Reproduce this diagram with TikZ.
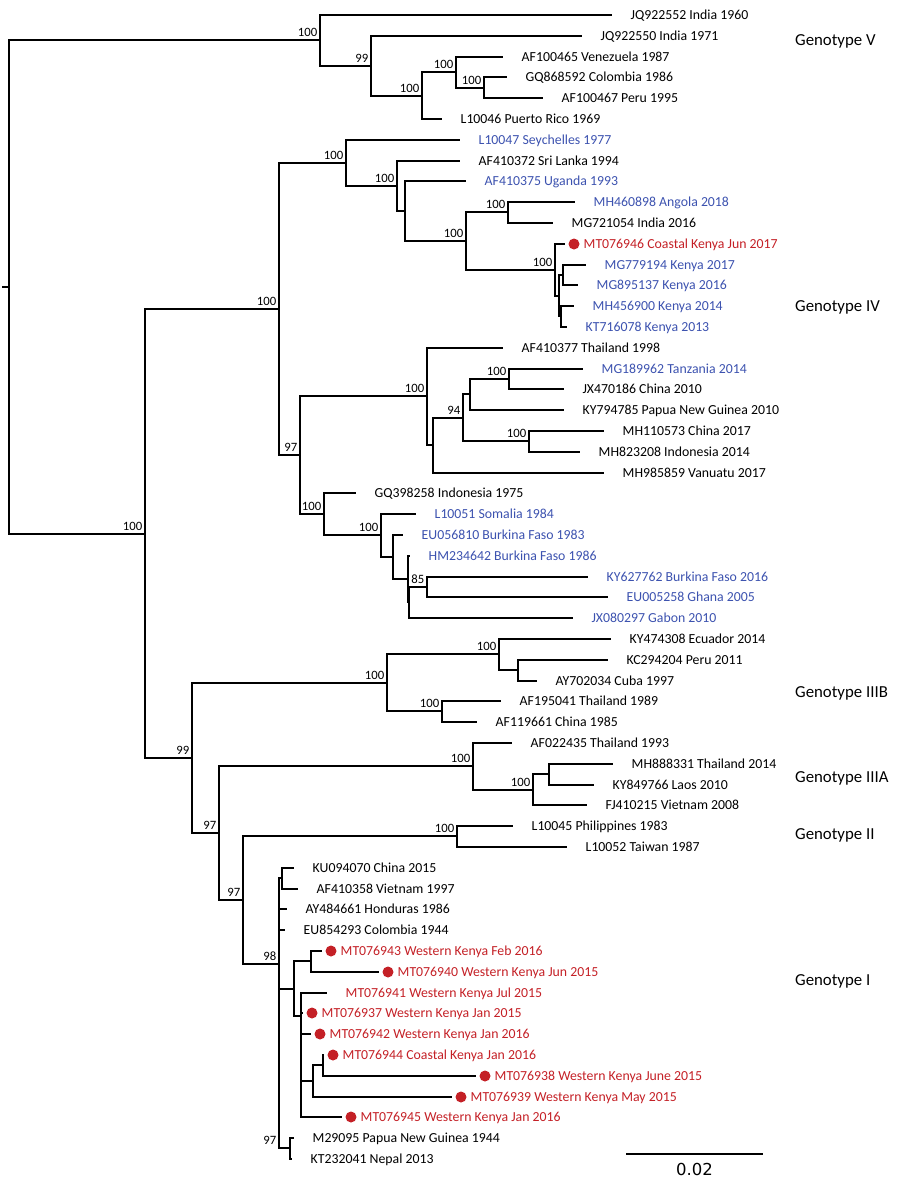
\documentclass[tikz,border=0pt]{standalone}
\usepackage{fontspec}
\setmainfont{Carlito}
\newfontfamily\scalebarfont{DejaVu Sans}
\definecolor{tblue}{RGB}{60,82,175}
\definecolor{tred}{RGB}{196,32,38}
\newcommand\leaf[5]{\coordinate (#1) at (#2,#3); \node[tl,#5] (#1l) at ([xshift=18.5pt]#1) {#4};}
\newcommand\dleaf[4]{\coordinate (#1) at (#2,#3); \node[reddot] (#1d) at ([xshift=9pt]#1) {}; \node[tl,tred] (#1l) at ([xshift=18.5pt]#1) {#4};}
\newcommand\inode[4]{\coordinate (#1) at (#2,#3); \node[bs] (#1b) at ([xshift=-2.5pt,yshift=3.5pt]#1) {#4};}
\begin{document}
\begin{tikzpicture}[x=1pt,y=-1pt,
  br/.style={line width=2pt, line join=miter},
  tl/.style={anchor=west, inner sep=0pt, font=\fontsize{13.8}{14}\selectfont, text height=9pt, text depth=0pt},
  bs/.style={anchor=south east, inner sep=0pt, font=\fontsize{12.7}{13}\selectfont},
  gt/.style={anchor=west, inner sep=0pt, font=\fontsize{16.8}{18}\selectfont, text height=11pt, text depth=0pt},
  reddot/.style={circle, fill=tred, draw=none, inner sep=0pt, minimum size=11pt}]
\useasboundingbox (0,0) rectangle (900,1186);
% ---- leaves ----
\leaf{t1}{612}{15}{JQ922552 India 1960}{black}
\leaf{t2}{582}{36}{JQ922550 India 1971}{black}
\leaf{t3}{503}{57}{AF100465 Venezuela 1987}{black}
\leaf{t4}{507}{77}{GQ868592 Colombia 1986}{black}
\leaf{t5}{543}{98}{AF100467 Peru 1995}{black}
\leaf{t6}{442}{119}{L10046 Puerto Rico 1969}{black}
\leaf{t7}{460}{140}{L10047 Seychelles 1977}{tblue}
\leaf{t8}{460}{161}{AF410372 Sri Lanka 1994}{black}
\leaf{t9}{466}{181}{AF410375 Uganda 1993}{tblue}
\leaf{t10}{575}{202}{MH460898 Angola 2018}{tblue}
\leaf{t11}{553}{223}{MG721054 India 2016}{black}
\dleaf{t12}{565}{244}{MT076946 Coastal Kenya Jun 2017}
\leaf{t13}{586}{265}{MG779194 Kenya 2017}{tblue}
\leaf{t14}{578}{285}{MG895137 Kenya 2016}{tblue}
\leaf{t15}{574}{306}{MH456900 Kenya 2014}{tblue}
\leaf{t16}{567}{327}{KT716078 Kenya 2013}{tblue}
\leaf{t17}{503}{348}{AF410377 Thailand 1998}{black}
\leaf{t18}{583}{369}{MG189962 Tanzania 2014}{tblue}
\leaf{t19}{564}{389}{JX470186 China 2010}{black}
\leaf{t20}{564}{410}{KY794785 Papua New Guinea 2010}{black}
\leaf{t21}{604}{431}{MH110573 China 2017}{black}
\leaf{t22}{580}{452}{MH823208 Indonesia 2014}{black}
\leaf{t23}{604}{473}{MH985859 Vanuatu 2017}{black}
\leaf{t24}{356}{493}{GQ398258 Indonesia 1975}{black}
\leaf{t25}{416}{514}{L10051 Somalia 1984}{tblue}
\leaf{t26}{403}{535}{EU056810 Burkina Faso 1983}{tblue}
\leaf{t27}{410}{556}{HM234642 Burkina Faso 1986}{tblue}
\leaf{t28}{588}{577}{KY627762 Burkina Faso 2016}{tblue}
\leaf{t29}{608}{597}{EU005258 Ghana 2005}{tblue}
\leaf{t30}{573}{618}{JX080297 Gabon 2010}{tblue}
\leaf{t31}{611}{639}{KY474308 Ecuador 2014}{black}
\leaf{t32}{608}{660}{KC294204 Peru 2011}{black}
\leaf{t33}{537}{681}{AY702034 Cuba 1997}{black}
\leaf{t34}{501}{701}{AF195041 Thailand 1989}{black}
\leaf{t35}{477}{722}{AF119661 China 1985}{black}
\leaf{t36}{512}{743}{AF022435 Thailand 1993}{black}
\leaf{t37}{613}{764}{MH888331 Thailand 2014}{black}
\leaf{t38}{594}{785}{KY849766 Laos 2010}{black}
\leaf{t39}{587}{805}{FJ410215 Vietnam 2008}{black}
\leaf{t40}{513}{826}{L10045 Philippines 1983}{black}
\leaf{t41}{567}{847}{L10052 Taiwan 1987}{black}
\leaf{t42}{294}{868}{KU094070 China 2015}{black}
\leaf{t43}{298}{889}{AF410358 Vietnam 1997}{black}
\leaf{t44}{287}{909}{AY484661 Honduras 1986}{black}
\leaf{t45}{285}{930}{EU854293 Colombia 1944}{black}
\dleaf{t46}{322}{951}{MT076943 Western Kenya Feb 2016}
\dleaf{t47}{379}{972}{MT076940 Western Kenya Jun 2015}
\leaf{t48}{327}{993}{MT076941 Western Kenya Jul 2015}{tred}
\dleaf{t49}{303}{1013}{MT076937 Western Kenya Jan 2015}
\dleaf{t50}{311}{1034}{MT076942 Western Kenya Jan 2016}
\dleaf{t51}{324}{1055}{MT076944 Coastal Kenya Jan 2016}
\dleaf{t52}{476}{1076}{MT076938 Western Kenya June 2015}
\dleaf{t53}{452}{1097}{MT076939 Western Kenya May 2015}
\dleaf{t54}{342}{1117}{MT076945 Western Kenya Jan 2016}
\leaf{t55}{294}{1138}{M29095 Papua New Guinea 1944}{black}
\leaf{t56}{292}{1159}{KT232041 Nepal 2013}{black}
% ---- internal nodes ----
\coordinate (root) at (9,287);
\coordinate (rs) at (2,287);
\inode{gV}{320}{40}{100}
\inode{gV4}{371}{66}{99}
\inode{gV3}{422}{96}{100}
\inode{gV2}{456}{72}{100}
\inode{gV1}{484}{88}{100}
\inode{n145}{145}{534}{100}
\inode{n279}{279}{309}{100}
\inode{n346}{346}{163}{100}
\inode{n397}{397}{186}{100}
\coordinate (n405) at (405,211);
\inode{n466}{466}{241}{100}
\inode{n508}{508}{212}{100}
\inode{nA}{555}{270}{100}
\coordinate (nB) at (559,296);
\coordinate (nC) at (563,275);
\coordinate (nD) at (561,316);
\inode{n300}{300}{455}{97}
\inode{n427}{427}{396}{100}
\coordinate (n433) at (433,445);
\inode{n463}{463}{418}{94}
\coordinate (n470) at (470,394);
\inode{n509}{509}{379}{100}
\inode{n529}{529}{441}{100}
\inode{n324}{324}{514}{100}
\inode{n381}{381}{535}{100}
\coordinate (n393) at (393,557);
\coordinate (n408) at (408,579);
\coordinate (nE) at (409,602);
\inode{n85}{427}{587}{85}
\inode{n192}{192}{758}{99}
\inode{n387}{387}{683}{100}
\inode{n499}{499}{654}{100}
\coordinate (n518) at (518,670);
\inode{n442}{442}{711}{100}
\inode{n219}{219}{833}{97}
\inode{n473}{473}{766}{100}
\inode{n533}{533}{790}{100}
\coordinate (n549) at (549,774);
\inode{n243}{243}{900}{97}
\inode{n457}{457}{836}{100}
\inode{n98}{279}{964}{98}
\coordinate (nKU) at (282,878);
\coordinate (nR) at (294,989);
\coordinate (n311) at (311,961);
\coordinate (nN) at (301,1016);
\coordinate (n313) at (313,1081);
\coordinate (n323) at (323,1065);
\coordinate (n97b) at (290,1148);
\node[bs] (n97bb) at (276.5,1144.5) {97};
% ---- branches ----
\draw[br] (rs) -- (root);
\foreach \p/\c in {root/gV, root/n145,
  gV/t1, gV/gV4, gV4/t2, gV4/gV3, gV3/gV2, gV3/t6, gV2/t3, gV2/gV1, gV1/t4, gV1/t5,
  n145/n279, n145/n192, n279/n346, n279/n300,
  n346/t7, n346/n397, n397/t8, n397/n405, n405/t9, n405/n466, n466/n508, n466/nA,
  n508/t10, n508/t11, nA/t12, nA/nB, nB/nC, nB/nD, nC/t13, nC/t14, nD/t15, nD/t16,
  n300/n427, n300/n324, n427/t17, n427/n433, n433/n463, n433/t23, n463/n470, n463/n529,
  n470/n509, n470/t20, n509/t18, n509/t19, n529/t21, n529/t22,
  n324/t24, n324/n381, n381/t25, n381/n393, n393/t26, n393/n408, n408/t27, n408/nE,
  nE/n85, nE/t30, n85/t28, n85/t29,
  n192/n387, n192/n219, n387/n499, n387/n442, n499/t31, n499/n518, n518/t32, n518/t33,
  n442/t34, n442/t35, n219/n473, n219/n243, n473/t36, n473/n533, n533/n549, n533/t39,
  n549/t37, n549/t38, n243/n457, n243/n98, n457/t40, n457/t41,
  n98/nKU, n98/t44, n98/t45, n98/nR, n98/n97b, nKU/t42, nKU/t43,
  nR/n311, nR/nN, n311/t46, n311/t47,
  nN/t48, nN/t49, nN/t50, nN/n313, nN/t54, n313/n323, n313/t53, n323/t51, n323/t52,
  n97b/t55, n97b/t56}
  \draw[br] (\p) |- (\c);
% ---- genotype labels ----
\node[gt] (gtV) at (795,40) {Genotype V};
\node[gt] (gtIV) at (795,306) {Genotype IV};
\node[gt] (gtIIIB) at (795,692) {Genotype IIIB};
\node[gt] (gtIIIA) at (795,777) {Genotype IIIA};
\node[gt] (gtII) at (795,834) {Genotype II};
\node[gt] (gtI) at (795,980) {Genotype I};
% ---- scale bar ----
\coordinate (sbL) at (626,1154);
\coordinate (sbR) at (763,1154);
\draw[br] (sbL) -- (sbR);
\node[inner sep=0pt, font=\scalebarfont\fontsize{16.5}{18}\selectfont] (sbT) at (694.5,1169) {0.02};
\end{tikzpicture}
\end{document}
